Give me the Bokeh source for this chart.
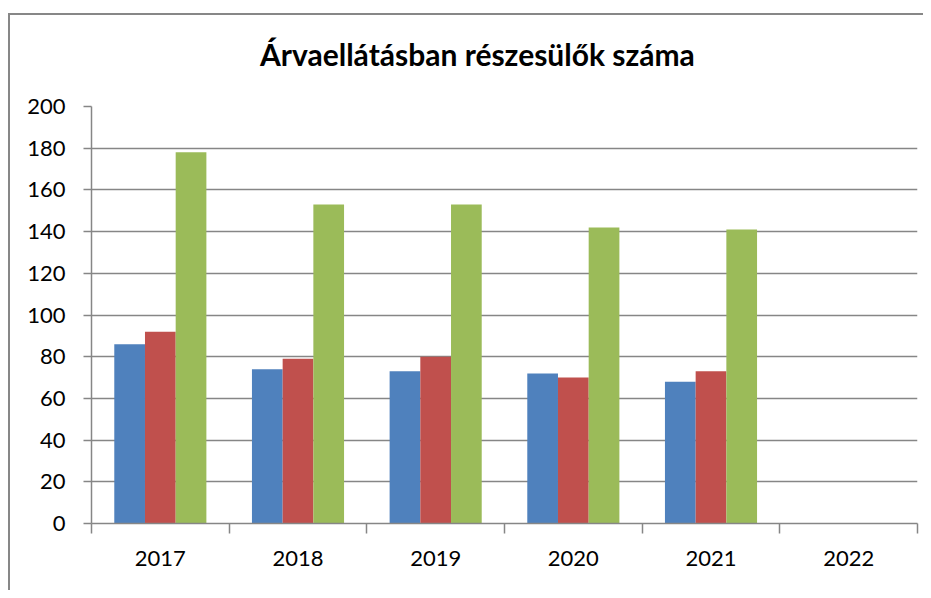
import numpy as np
from bokeh.plotting import figure
from bokeh.models import Range1d, FixedTicker, Div
from bokeh.layouts import column
from bokeh.embed import file_html
from bokeh.resources import INLINE

title_text = "Árvaellátásban részesülők száma"
years = ["2017", "2018", "2019", "2020", "2021", "2022"]
nan = float("nan")
series_blue = [86, 74, 73, 72, 68, nan]
series_red = [92, 79, 80, 70, 73, nan]
series_green = [178, 153, 153, 142, 141, nan]
y_ticks = [0, 20, 40, 60, 80, 100, 120, 140, 160, 180, 200]

colors = ["#4F81BD", "#C0504D", "#9BBB59"]
FONT = "Lato"
GRAY = "#868686"

n = len(years)
centers = np.arange(n) + 0.5
bar_w = 0.223

title_div = Div(
    text=('<div style="margin:0;padding:21px 0 0 250px;font-family:Lato;font-weight:bold;'
          'font-size:30px;line-height:36px;color:black;white-space:nowrap;">'
          + title_text + '</div>'),
    width=913, height=70, margin=0)

p = figure(width=913, height=505, x_range=Range1d(0, n), y_range=Range1d(0, 200),
           output_backend="svg", toolbar_location=None,
           min_border_left=81, min_border_right=6, min_border_top=21, min_border_bottom=67)
p.margin = 0
p.title.visible = False

for i, (vals, c) in enumerate(zip([series_blue, series_red, series_green], colors)):
    p.vbar(x=centers + (i - 1) * bar_w, top=vals, width=bar_w, bottom=0,
           fill_color=c, line_color=None)

p.outline_line_color = None
p.xgrid.visible = False
p.ygrid.grid_line_color = GRAY
p.ygrid.grid_line_width = 1.5
p.yaxis.ticker = FixedTicker(ticks=y_ticks)
p.yaxis.axis_line_color = GRAY
p.yaxis.axis_line_width = 1.5
p.yaxis.major_tick_line_color = GRAY
p.yaxis.major_tick_line_width = 1.5
p.yaxis.major_tick_out = 8
p.yaxis.major_tick_in = 0
p.yaxis.minor_tick_line_color = None
p.yaxis.major_label_standoff = 18
p.yaxis.major_label_text_font = FONT
p.yaxis.major_label_text_font_size = "22px"
p.yaxis.major_label_text_color = "black"

p.xaxis.ticker = FixedTicker(ticks=list(centers), minor_ticks=list(range(n + 1)))
p.xaxis.major_label_overrides = {float(c): y for c, y in zip(centers, years)}
p.xaxis.axis_line_color = GRAY
p.xaxis.axis_line_width = 1.5
p.xaxis.major_tick_line_color = None
p.xaxis.minor_tick_line_color = GRAY
p.xaxis.minor_tick_line_width = 1.5
p.xaxis.minor_tick_out = 10
p.xaxis.minor_tick_in = 0
p.xaxis.major_label_standoff = 17
p.xaxis.major_label_text_font = FONT
p.xaxis.major_label_text_font_size = "22px"
p.xaxis.major_label_text_color = "black"

layout = column(title_div, p, spacing=0, margin=(13, 0, 0, 8))
layout.styles = {"border-left": "2px solid #878787", "border-top": "2px solid #878787"}

open("out.html", "w").write(file_html(layout, INLINE))
